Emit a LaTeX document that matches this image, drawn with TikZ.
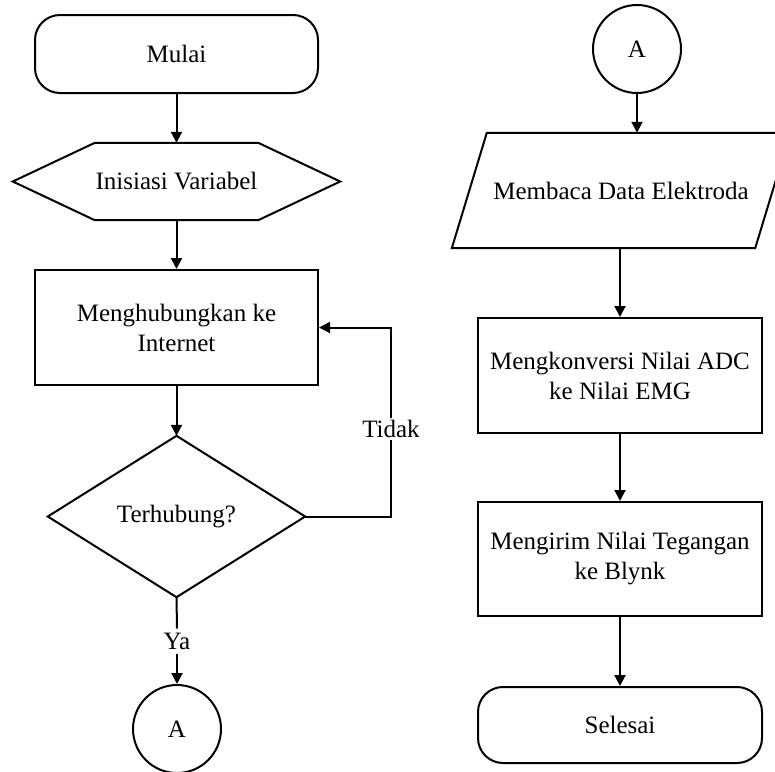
\documentclass[tikz,border=0pt]{standalone}
\usepackage{fontspec}
\setmainfont{Liberation Serif}
\usetikzlibrary{arrows.meta,calc}
\begin{document}
\begin{tikzpicture}[x=1pt,y=-1pt,
  every node/.style={font=\fontsize{25}{30}\selectfont, inner sep=0pt, align=center},
  box/.style={draw, line width=2pt, minimum width=#1},
  ghost/.style={draw=none},
  lbl/.style={inner sep=4pt},
  arr/.style={line width=2pt, -{Triangle[length=11pt,width=11pt]}},
  ln/.style={line width=2pt}]
\useasboundingbox (0,0) rectangle (775,771);
% left column
\node[box=283pt, minimum height=78pt, rounded corners=25pt] (mulai) at (176.5,54) {Mulai};
\node[ghost, minimum width=327pt, minimum height=77pt] (ini) at (176.5,181.5) {Inisiasi Variabel};
\draw[ln] (ini.west) -- ([xshift=82pt]ini.north west) -- ([xshift=-82pt]ini.north east) -- (ini.east) -- ([xshift=-82pt]ini.south east) -- ([xshift=82pt]ini.south west) -- cycle;
\node[box=283pt, minimum height=115pt] (net) at (176.5,327.5) {Menghubungkan ke\\Internet};
\node[ghost, minimum width=257pt, minimum height=161pt] (dec) at (176.5,516.5) {Terhubung?};
\draw[ln] (dec.north) -- (dec.east) -- (dec.south) -- (dec.west) -- cycle;
\node[draw, circle, line width=2pt, minimum size=88pt] (a1) at (177,729) {A};
\draw[arr] (mulai) -- (ini.north);
\draw[arr] (ini.south) -- (net);
\draw[arr] (net) -- (dec.north);
\node[lbl] (ya) at (177,641) {Ya};
\draw[ln] (dec.south) -- (ya.north);
\draw[arr] (ya.south) -- (a1);
\coordinate (tr) at (391,516.5);
\node[lbl, inner sep=2pt] (tidak) at (391,429) {Tidak};
\draw[ln] (dec.east) -- (tr) -- (tidak.south);
\draw[arr] (tidak.north) |- (net.east);
% right column
\node[draw, circle, line width=2pt, minimum size=88pt] (a2) at (637,49) {A};
\node[ghost, minimum width=338pt, minimum height=115pt] (par) at (621,190.5) {Membaca Data Elektroda};
\draw[ln] (par.south west) -- ([xshift=-35pt]par.south east) -- (par.north east) -- ([xshift=35pt]par.north west) -- cycle;
\node[box=284pt, minimum height=115pt] (konv) at (620,375.5) {Mengkonversi Nilai ADC\\ke Nilai EMG};
\node[box=284pt, minimum height=114pt] (kirim) at (620,559) {Mengirim Nilai Tegangan\\ke Blynk};
\node[box=284pt, minimum height=76pt, rounded corners=25pt] (selesai) at (620,725) {Selesai};
\draw[arr] (a2.south) -- (a2.south |- par.north);
\draw[arr] (konv.north |- par.south) -- (konv.north);
\draw[arr] (konv) -- (kirim);
\draw[arr] (kirim) -- (selesai);
\end{tikzpicture}
\end{document}
